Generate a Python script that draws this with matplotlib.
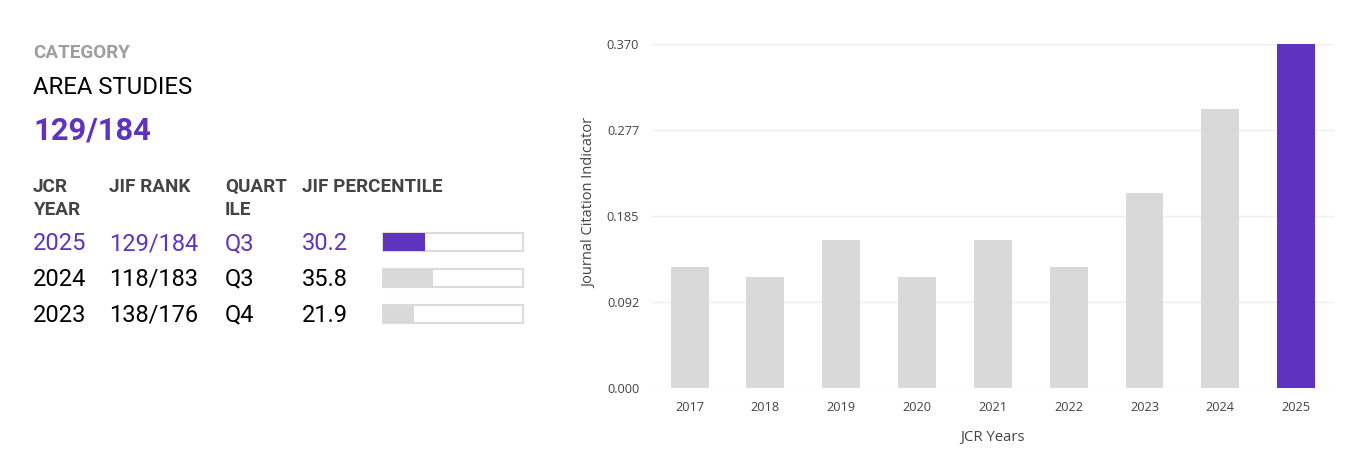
import matplotlib.pyplot as plt
import numpy as np

# --- data ---
years = ["2017", "2018", "2019", "2020", "2021", "2022", "2023", "2024", "2025"]
jci_values = [0.13, 0.12, 0.16, 0.12, 0.16, 0.13, 0.21, 0.30, 0.37]
y_ticks = [0.0, 0.0925, 0.185, 0.2775, 0.37]
y_tick_labels = ["0.000", "0.092", "0.185", "0.277", "0.370"]

category = "AREA STUDIES"
category_rank = "129/184"
table_years = ["2025", "2024", "2023"]
table_ranks = ["129/184", "118/183", "138/176"]
table_quartiles = ["Q3", "Q3", "Q4"]
table_percentiles = [30.2, 35.8, 21.9]

PURPLE = "#5e33bf"
GREY_BAR = "#d9d9d9"
W, H = 1354, 470


def fx(x):
    return x / W


def fy(y):
    return 1 - y / H


fig = plt.figure(figsize=(W / 100, H / 100), dpi=100)
plt.rcParams['font.family'] = ['Roboto', 'DejaVu Sans']

# --- left panel: category text ---
fig.text(fx(33), fy(58.3), "CATEGORY", fontsize=13.6, color="#9e9e9e",
         fontweight="semibold", va="baseline")
fig.text(fx(33), fy(94.3), category, fontsize=17.2, color="black", va="baseline")
fig.text(fx(33), fy(140), category_rank, fontsize=22.2, color=PURPLE,
         fontweight="semibold", va="baseline")

head_col = "#444444"
col_x = [33, 109, 225, 302]
headers = [("JCR", "YEAR"), ("JIF RANK", ""), ("QUART", "ILE"), ("JIF PERCENTILE", "")]
for x, (l1, l2) in zip(col_x, headers):
    fig.text(fx(x), fy(191.7), l1, fontsize=13.6, color=head_col,
             fontweight="semibold", va="baseline")
    if l2:
        fig.text(fx(x), fy(215), l2, fontsize=13.6, color=head_col,
                 fontweight="semibold", va="baseline")

row_base = [250, 285.5, 321.5]
for i in range(len(table_years)):
    c = PURPLE if i == 0 else "black"
    cells = [table_years[i], table_ranks[i], table_quartiles[i], f"{table_percentiles[i]:.1f}"]
    for x, s in zip(col_x, cells):
        fig.text(fx(x), fy(row_base[i]), s, fontsize=17, color=c, va="baseline")

# percentile bars
pax = fig.add_axes([fx(382.3), fy(332), (524 - 382.3) / W, 108 / H])
rows = np.arange(len(table_percentiles))
pax.barh(rows, [100] * len(rows), height=0.5, color="white",
         edgecolor="#dcdcdc", linewidth=1.5)
pax.barh(rows, table_percentiles, height=0.5,
         color=[PURPLE] + [GREY_BAR] * (len(rows) - 1), linewidth=0)
pax.set_xlim(-0.5, 100.5)
pax.set_ylim(2.5, -0.5)
pax.axis("off")

# --- right panel: bar chart ---
ax = fig.add_axes([fx(651.7), fy(388.3), (1334 - 651.7) / W, (388.3 - 44.3) / H])
x = np.arange(len(years))
colors = [GREY_BAR] * (len(years) - 1) + [PURPLE]
ax.bar(x, jci_values, width=0.5, color=colors, zorder=2)
ax.set_xlim(-0.5, len(years) - 0.5)
ax.set_ylim(0, 0.37)
ax.set_yticks(y_ticks)
ax.set_yticklabels(y_tick_labels)
ax.set_xticks(x)
ax.set_xticklabels(years)
ax.grid(axis="y", color="#eeeeee", linewidth=1, zorder=0)
ax.set_axisbelow(True)
for s in ax.spines.values():
    s.set_visible(False)
ax.tick_params(length=0, labelsize=9.2, labelcolor="#444444", pad=9)
for lab in ax.get_xticklabels() + ax.get_yticklabels():
    lab.set_family("Open Sans")
ax.set_ylabel("Journal Citation Indicator", fontsize=10.5, color="#444444",
              family="Open Sans")
ax.set_xlabel("JCR Years", fontsize=10.7, color="#444444", family="Open Sans")
ax.yaxis.set_label_coords(-0.080, 0.539)
ax.xaxis.set_label_coords(0.5, -0.121)

fig.savefig("out.png", dpi=100)
